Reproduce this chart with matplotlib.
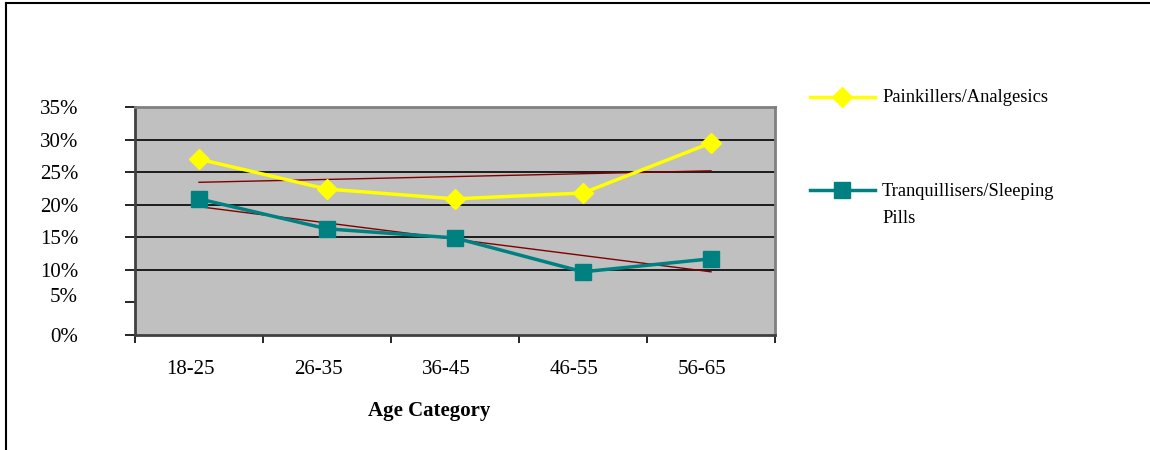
#!/usr/bin/env python3
import numpy as np
import matplotlib
matplotlib.use("Agg")
import matplotlib.pyplot as plt
from matplotlib.lines import Line2D
from matplotlib.transforms import ScaledTranslation

categories = ["18-25", "26-35", "36-45", "46-55", "56-65"]
painkillers = [27.0, 22.4, 20.9, 21.8, 29.5]
tranquillisers = [20.9, 16.3, 14.9, 9.7, 11.7]
series_names = ["Painkillers/Analgesics", "Tranquillisers/Sleeping\nPills"]
y_ticks = [0, 5, 10, 15, 20, 25, 30, 35]
y_labels = ["0%", "5%", "10%", "15%", "20%", "25%", "30%", "35%"]

plt.rcParams['font.family'] = ['Liberation Serif', 'DejaVu Serif']

W, H = 1150, 450
fig = plt.figure(figsize=(11.5, 4.5), dpi=100)
ax = fig.add_axes([135 / W, 1 - 335 / H, 640 / W, 228 / H])

x = np.arange(len(categories))
ax.set_facecolor("#c0c0c0")
ax.set_xlim(-0.5, len(categories) - 0.5)
ax.set_ylim(0, 35)

# gridlines (no line at 5% in the original)
for v in y_ticks[2:-1]:
    ax.axhline(v, color="black", lw=1.2, zorder=1)

yellow = "#ffff00"
teal = "#008080"
ax.plot(x, painkillers, color=yellow, lw=2.5, marker="D", ms=10,
        mec=yellow, mfc=yellow, zorder=3)
ax.plot(x, tranquillisers, color=teal, lw=2.5, marker="s", ms=11,
        mec=teal, mfc=teal, zorder=3)

# linear trendlines
for ser in (painkillers, tranquillisers):
    k, b = np.polyfit(x, ser, 1)
    ax.plot(x[[0, -1]], k * x[[0, -1]] + b, color="#800000", lw=1, zorder=2)

for s in ("top", "right"):
    ax.spines[s].set_color("#808080")
    ax.spines[s].set_linewidth(2)
ax.spines["left"].set_color("#404040")
ax.spines["bottom"].set_color("#404040")
ax.spines["left"].set_linewidth(2)
ax.spines["bottom"].set_linewidth(2)

ax.set_yticks(y_ticks)
ax.set_yticklabels(y_labels)
ax.tick_params(axis="y", direction="out", length=7, width=1.2, pad=34,
               labelsize=15)
# the 5% label sits a bit higher than its tick in the original
lab5 = ax.get_yticklabels()[1]
lab5.set_transform(lab5.get_transform() +
                   ScaledTranslation(0, 7 / 100, fig.dpi_scale_trans))

ax.set_xticks(np.arange(len(categories) + 1) - 0.5)
ax.set_xticklabels([])
ax.set_xticks(x, minor=True)
ax.set_xticklabels(categories, minor=True)
ax.tick_params(axis="x", which="major", direction="out", length=6, width=1.2)
ax.tick_params(axis="x", which="minor", length=0, pad=18, labelsize=15)
# category labels sit slightly left of the category centres
for lab in ax.get_xticklabels(minor=True):
    lab.set_transform(lab.get_transform() +
                      ScaledTranslation(-9 / 100, 0, fig.dpi_scale_trans))
ax.set_xlabel("Age Category", fontsize=15, fontweight="bold", labelpad=16)
ax.xaxis.label.set_x(0.459)

# legend drawn manually to mimic the layout
leg_y = [1 - 97 / H, 1 - 190 / H]
styles = [(yellow, "D", 10), (teal, "s", 11)]
for yy, (c, m, ms) in zip(leg_y, styles):
    fig.add_artist(Line2D([810 / W, 875 / W], [yy, yy], color=c, lw=2.5,
                          transform=fig.transFigure))
    fig.add_artist(Line2D([842 / W], [yy], color=c, marker=m, ms=ms,
                          mec=c, mfc=c, transform=fig.transFigure))
fig.text(882 / W, leg_y[0], series_names[0], fontsize=13.3, va="center")
fig.text(882 / W, leg_y[1] + 7 / H, series_names[1], fontsize=13.3, va="top",
         linespacing=1.75)

# outer frame (top and left edges only)
fig.add_artist(Line2D([6 / W, 1], [1 - 3 / H, 1 - 3 / H], color="black",
                      lw=1.5, transform=fig.transFigure))
fig.add_artist(Line2D([6 / W, 6 / W], [0, 1 - 3 / H], color="black",
                      lw=1.5, transform=fig.transFigure))

fig.savefig("out.png", dpi=100)
